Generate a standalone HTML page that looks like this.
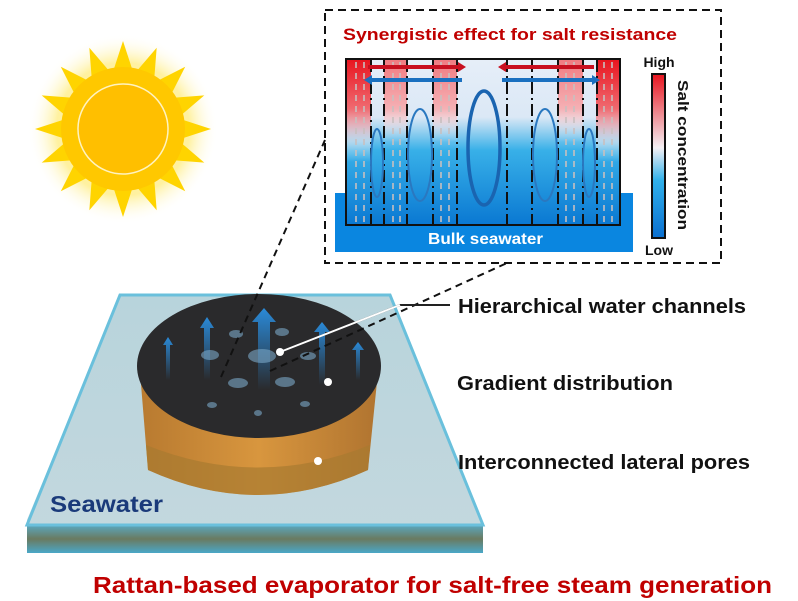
<!DOCTYPE html>
<html><head><meta charset="utf-8"><style>
html,body{margin:0;padding:0;background:#fff;}
svg{display:block;font-family:"Liberation Sans",Arial,sans-serif;}
</style></head><body>
<svg width="798" height="601" viewBox="0 0 798 601" xmlns="http://www.w3.org/2000/svg">
<defs>
<linearGradient id="base" x1="0" y1="0" x2="0" y2="1">
<stop offset="0" stop-color="#e6eef8"/><stop offset="0.35" stop-color="#dbe8f6"/><stop offset="0.55" stop-color="#38b0e8"/><stop offset="1" stop-color="#0a78d2"/></linearGradient>
<linearGradient id="redS" x1="0" y1="0" x2="0" y2="1">
<stop offset="0" stop-color="#e8141e"/><stop offset="0.3" stop-color="#f06a70"/><stop offset="0.5" stop-color="#e8e8f0" stop-opacity="0.6"/><stop offset="0.62" stop-color="#fff" stop-opacity="0"/></linearGradient>
<linearGradient id="redP" x1="0" y1="0" x2="0" y2="1">
<stop offset="0" stop-color="#f07a80"/><stop offset="0.3" stop-color="#f5b0b4"/><stop offset="0.5" stop-color="#fff" stop-opacity="0"/></linearGradient>
<linearGradient id="cbar" x1="0" y1="0" x2="0" y2="1">
<stop offset="0" stop-color="#e8141e"/><stop offset="0.45" stop-color="#f4f0f4"/><stop offset="0.65" stop-color="#30b0ea"/><stop offset="1" stop-color="#0a6fd0"/></linearGradient>
<radialGradient id="glow"><stop offset="0.7" stop-color="#ffe860"/><stop offset="1" stop-color="#fff" stop-opacity="0"/></radialGradient>
<linearGradient id="glass" x1="0" y1="0" x2="0" y2="1">
<stop offset="0" stop-color="#b8d4dc"/><stop offset="1" stop-color="#c4d8de"/></linearGradient>
<linearGradient id="side" x1="0" y1="0" x2="1" y2="0">
<stop offset="0" stop-color="#b87a30"/><stop offset="0.5" stop-color="#d8963e"/><stop offset="1" stop-color="#b07430"/></linearGradient>
<linearGradient id="front" x1="0" y1="0" x2="0" y2="1">
<stop offset="0" stop-color="#5aa8c0"/><stop offset="0.5" stop-color="#6a7a60"/><stop offset="1" stop-color="#4aa8c8"/></linearGradient>
<linearGradient id="arr" x1="0" y1="0" x2="0" y2="1"><stop offset="0" stop-color="#2a8ad8"/><stop offset="1" stop-color="#2a8ad8" stop-opacity="0"/></linearGradient>
<linearGradient id="lead" x1="0" y1="0" x2="1" y2="0"><stop offset="0" stop-color="#fff"/><stop offset="1" stop-color="#111"/></linearGradient>
</defs>

<!-- Sun -->
<g transform="translate(123,129)">
<circle r="95" fill="url(#glow)" opacity="0.6"/>
<g fill="#ffd400">
<polygon points="0,-88 -14,-45 14,-45"/>
<polygon points="0,-88 -14,-45 14,-45" transform="rotate(22.5)"/>
<polygon points="0,-88 -14,-45 14,-45" transform="rotate(45)"/>
<polygon points="0,-88 -14,-45 14,-45" transform="rotate(67.5)"/>
<polygon points="0,-88 -14,-45 14,-45" transform="rotate(90)"/>
<polygon points="0,-88 -14,-45 14,-45" transform="rotate(112.5)"/>
<polygon points="0,-88 -14,-45 14,-45" transform="rotate(135)"/>
<polygon points="0,-88 -14,-45 14,-45" transform="rotate(157.5)"/>
<polygon points="0,-88 -14,-45 14,-45" transform="rotate(180)"/>
<polygon points="0,-88 -14,-45 14,-45" transform="rotate(202.5)"/>
<polygon points="0,-88 -14,-45 14,-45" transform="rotate(225)"/>
<polygon points="0,-88 -14,-45 14,-45" transform="rotate(247.5)"/>
<polygon points="0,-88 -14,-45 14,-45" transform="rotate(270)"/>
<polygon points="0,-88 -14,-45 14,-45" transform="rotate(292.5)"/>
<polygon points="0,-88 -14,-45 14,-45" transform="rotate(315)"/>
<polygon points="0,-88 -14,-45 14,-45" transform="rotate(337.5)"/>
</g>
<circle r="62" fill="#ffc800"/>
<circle r="45" fill="#ffbf00" stroke="#fff3c0" stroke-width="1.5"/>
</g>

<!-- Inset box -->
<rect x="325" y="10" width="396" height="253" fill="#fff" stroke="#111" stroke-width="2" stroke-dasharray="8,5"/>
<text x="343" y="40" font-size="17" font-weight="bold" fill="#c00000" textLength="334" lengthAdjust="spacingAndGlyphs">Synergistic effect for salt resistance</text>
<rect x="335" y="193" width="298" height="59" fill="#0a86e0"/>
<rect x="346" y="59" width="274" height="166" fill="url(#base)"/>
<rect x="346" y="59" width="25" height="166" fill="url(#redS)"/>
<rect x="596" y="59" width="24" height="166" fill="url(#redS)"/>
<rect x="384" y="59" width="23" height="166" fill="url(#redP)"/>
<rect x="433" y="59" width="24" height="166" fill="url(#redP)"/>
<rect x="558" y="59" width="25" height="166" fill="url(#redP)"/>
<g stroke="#c8c0c0" stroke-width="2" stroke-dasharray="6,5" opacity="0.8">
<line x1="356" y1="62" x2="356" y2="224"/><line x1="364" y1="62" x2="364" y2="224"/>
<line x1="393" y1="62" x2="393" y2="224"/><line x1="400" y1="62" x2="400" y2="224"/>
<line x1="441" y1="62" x2="441" y2="224"/><line x1="449" y1="62" x2="449" y2="224"/>
<line x1="566" y1="62" x2="566" y2="224"/><line x1="574" y1="62" x2="574" y2="224"/>
<line x1="604" y1="62" x2="604" y2="224"/><line x1="612" y1="62" x2="612" y2="224"/>
</g>
<g stroke="#111" stroke-width="2" stroke-dasharray="12,4,2,4">
<line x1="371" y1="60" x2="371" y2="224"/><line x1="384" y1="60" x2="384" y2="224"/>
<line x1="407" y1="60" x2="407" y2="224"/><line x1="433" y1="60" x2="433" y2="224"/>
<line x1="457" y1="60" x2="457" y2="224"/><line x1="507" y1="60" x2="507" y2="224"/>
<line x1="532" y1="60" x2="532" y2="224"/><line x1="558" y1="60" x2="558" y2="224"/>
<line x1="583" y1="60" x2="583" y2="224"/><line x1="597" y1="60" x2="597" y2="224"/>
</g>
<rect x="346" y="59" width="274" height="166" fill="none" stroke="#111" stroke-width="2"/>
<g stroke-width="4">
<line x1="368" y1="67" x2="460" y2="67" stroke="#c81020"/><polygon points="466,67 458,62 458,72" fill="#c81020"/>
<line x1="503" y1="67" x2="594" y2="67" stroke="#c81020"/><polygon points="498,67 506,62 506,72" fill="#c81020"/>
<line x1="370" y1="80" x2="462" y2="80" stroke="#1a70c0"/><polygon points="364,80 372,75 372,85" fill="#1a70c0"/>
<line x1="502" y1="80" x2="594" y2="80" stroke="#1a70c0"/><polygon points="600,80 592,75 592,85" fill="#1a70c0"/>
</g>
<g fill="none" stroke-width="2">
<ellipse cx="377" cy="163" rx="6" ry="34" stroke="#2a78c0"/>
<ellipse cx="420" cy="155" rx="12" ry="46" stroke="#2a78c0"/>
<ellipse cx="484" cy="148" rx="16" ry="57" stroke="#1a64b0" stroke-width="3.5"/>
<ellipse cx="545" cy="155" rx="12" ry="46" stroke="#2a78c0"/>
<ellipse cx="589" cy="163" rx="6" ry="34" stroke="#2a78c0"/>
</g>
<text x="428" y="244" font-size="16" font-weight="bold" fill="#fff" textLength="115" lengthAdjust="spacingAndGlyphs">Bulk seawater</text>
<rect x="652" y="74" width="13" height="164" fill="url(#cbar)" stroke="#111" stroke-width="2"/>
<text x="659" y="67" text-anchor="middle" font-size="14" font-weight="bold" fill="#111">High</text>
<text x="659" y="255" text-anchor="middle" font-size="14" font-weight="bold" fill="#111">Low</text>
<text transform="translate(678,80) rotate(90)" font-size="15" font-weight="bold" fill="#111" textLength="150" lengthAdjust="spacingAndGlyphs">Salt concentration</text>

<!-- Platform -->
<polygon points="120,295 390,295 483,525 483,553 27,553 27,520" fill="url(#glass)"/>
<polygon points="27,525 483,525 483,553 27,553" fill="url(#front)"/>
<polygon points="120,295 390,295 483,525 27,525" fill="none" stroke="#6ac0dc" stroke-width="3"/>
<path d="M140,372 L148,470 Q258,520 368,470 L378,372 Z" fill="url(#side)"/>
<path d="M146,445 L148,470 Q258,520 368,470 L370,445 Q258,490 146,445Z" fill="#a87a30" opacity="0.7"/>
<ellipse cx="259" cy="366" rx="122" ry="72" fill="#2a2a2c"/>
<g fill="url(#arr)">
<polygon points="168,337 163,345 166,345 166,380 170,380 170,345 173,345"/>
<polygon points="207,317 200,328 204,328 204,380 210,380 210,328 214,328"/>
<polygon points="264,308 252,322 258,322 258,390 270,390 270,322 276,322"/>
<polygon points="322,322 314,332 319,332 319,385 325,385 325,332 330,332"/>
<polygon points="358,342 352,350 356,350 356,380 360,380 360,350 364,350"/>
</g>
<g fill="#7aa8c8" opacity="0.6">
<ellipse cx="262" cy="356" rx="14" ry="7"/><ellipse cx="238" cy="383" rx="10" ry="5"/><ellipse cx="285" cy="382" rx="10" ry="5"/>
<ellipse cx="210" cy="355" rx="9" ry="5"/><ellipse cx="236" cy="334" rx="7" ry="4"/><ellipse cx="282" cy="332" rx="7" ry="4"/>
<ellipse cx="308" cy="356" rx="8" ry="4"/><ellipse cx="212" cy="405" rx="5" ry="3"/><ellipse cx="305" cy="404" rx="5" ry="3"/><ellipse cx="258" cy="413" rx="4" ry="3"/>
</g>
<text x="50" y="512" font-size="23" font-weight="bold" fill="#1a3a7a" textLength="113" lengthAdjust="spacingAndGlyphs">Seawater</text>

<g stroke="#111" stroke-width="2" stroke-dasharray="7,5" fill="none">
<line x1="221" y1="377" x2="325" y2="140"/>
<line x1="270" y1="371" x2="507" y2="263"/>
</g>
<polyline points="280,352 400,305 450,305" fill="none" stroke="#222" stroke-width="2"/>
<line x1="280" y1="352" x2="400" y2="305" stroke="#fff" stroke-width="2"/>
<circle cx="280" cy="352" r="4" fill="#fff"/>
<line x1="328" y1="382" x2="445" y2="382" stroke="url(#lead)" stroke-width="2"/>
<circle cx="328" cy="382" r="4" fill="#fff"/>
<line x1="318" y1="461" x2="445" y2="461" stroke="url(#lead)" stroke-width="2"/>
<circle cx="318" cy="461" r="4" fill="#fff"/>
<g font-size="20" font-weight="bold" fill="#111">
<text x="458" y="313" textLength="288" lengthAdjust="spacingAndGlyphs">Hierarchical water channels</text>
<text x="457" y="390" textLength="216" lengthAdjust="spacingAndGlyphs">Gradient distribution</text>
<text x="458" y="469" textLength="292" lengthAdjust="spacingAndGlyphs">Interconnected lateral pores</text>
</g>
<text x="93" y="593" font-size="23" font-weight="bold" fill="#c00000" textLength="679" lengthAdjust="spacingAndGlyphs">Rattan-based evaporator for salt-free steam generation</text>
</svg>
</body></html>
